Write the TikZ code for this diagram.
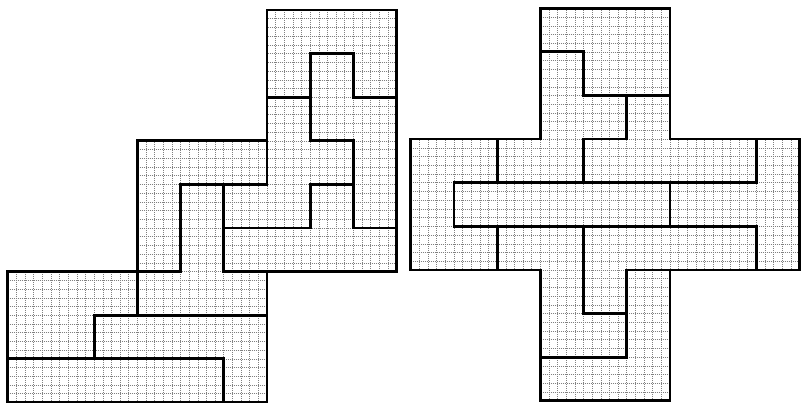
\documentclass[tikz,border=0pt]{standalone}
\tikzset{
  piece/.style={draw=black, line width=2.8pt, line join=miter, line cap=rect},
  fineline/.style={draw=black!50, line width=0.45pt, dash pattern=on 0.8pt off 1.2pt},
}
\newcommand\figLpath{%
  (6,0)--(9,0)--(9,2)--(8,2)--(8,1)--(7,1)--(7,2)--(6,2)--cycle
  (7,1)--(8,1)--(8,2)--(9,2)--(9,5)--(8,5)--(8,3)--(7,3)--cycle
  (6,2)--(7,2)--(7,3)--(8,3)--(8,4)--(7,4)--(7,5)--(5,5)--(5,4)--(6,4)--cycle
  (3,3)--(6,3)--(6,4)--(4,4)--(4,6)--(3,6)--cycle
  (4,4)--(5,4)--(5,6)--(6,6)--(6,7)--(3,7)--(3,6)--(4,6)--cycle
  (7,4)--(8,4)--(8,5)--(9,5)--(9,6)--(5,6)--(5,5)--(7,5)--cycle
  (0,6)--(3,6)--(3,7)--(2,7)--(2,8)--(0,8)--cycle
  (2,7)--(6,7)--(6,9)--(5,9)--(5,8)--(2,8)--cycle
  (0,8)--(5,8)--(5,9)--(0,9)--cycle}
\newcommand\figRpath{%
  (3,0)--(6,0)--(6,2)--(4,2)--(4,1)--(3,1)--cycle
  (3,1)--(4,1)--(4,2)--(5,2)--(5,3)--(4,3)--(4,4)--(2,4)--(2,3)--(3,3)--cycle
  (5,2)--(6,2)--(6,3)--(8,3)--(8,4)--(4,4)--(4,3)--(5,3)--cycle
  (0,3)--(2,3)--(2,4)--(1,4)--(1,5)--(2,5)--(2,6)--(0,6)--cycle
  (1,4)--(6,4)--(6,5)--(1,5)--cycle
  (8,3)--(9,3)--(9,6)--(8,6)--(8,5)--(6,5)--(6,4)--(8,4)--cycle
  (2,5)--(4,5)--(4,7)--(5,7)--(5,8)--(3,8)--(3,6)--(2,6)--cycle
  (4,5)--(8,5)--(8,6)--(5,6)--(5,7)--(4,7)--cycle
  (5,6)--(6,6)--(6,9)--(3,9)--(3,8)--(5,8)--cycle}
\begin{document}
\begin{tikzpicture}[x=1pt,y=-1pt]
\useasboundingbox (0,0) rectangle (802,403);
\fill[white] (0,0) rectangle (802,403);
% left figure
\begin{scope}[xshift=7.7pt, yshift=-10pt, x=43.2pt, y=-43.6pt]
  \begin{scope}
    \clip \figLpath;
    \foreach \i in {1,...,44} {
      \draw[fineline] (\i/5,0) -- (\i/5,9);
      \draw[fineline] (0,\i/5) -- (9,\i/5);
    }
  \end{scope}
  \draw[piece] \figLpath;
\end{scope}
% right figure
\begin{scope}[xshift=410.7pt, yshift=-8.3pt, x=43.2pt, y=-43.6pt]
  \begin{scope}
    \clip \figRpath;
    \foreach \i in {1,...,44} {
      \draw[fineline] (\i/5,0) -- (\i/5,9);
      \draw[fineline] (0,\i/5) -- (9,\i/5);
    }
  \end{scope}
  \draw[piece] \figRpath;
\end{scope}
\end{tikzpicture}
\end{document}
